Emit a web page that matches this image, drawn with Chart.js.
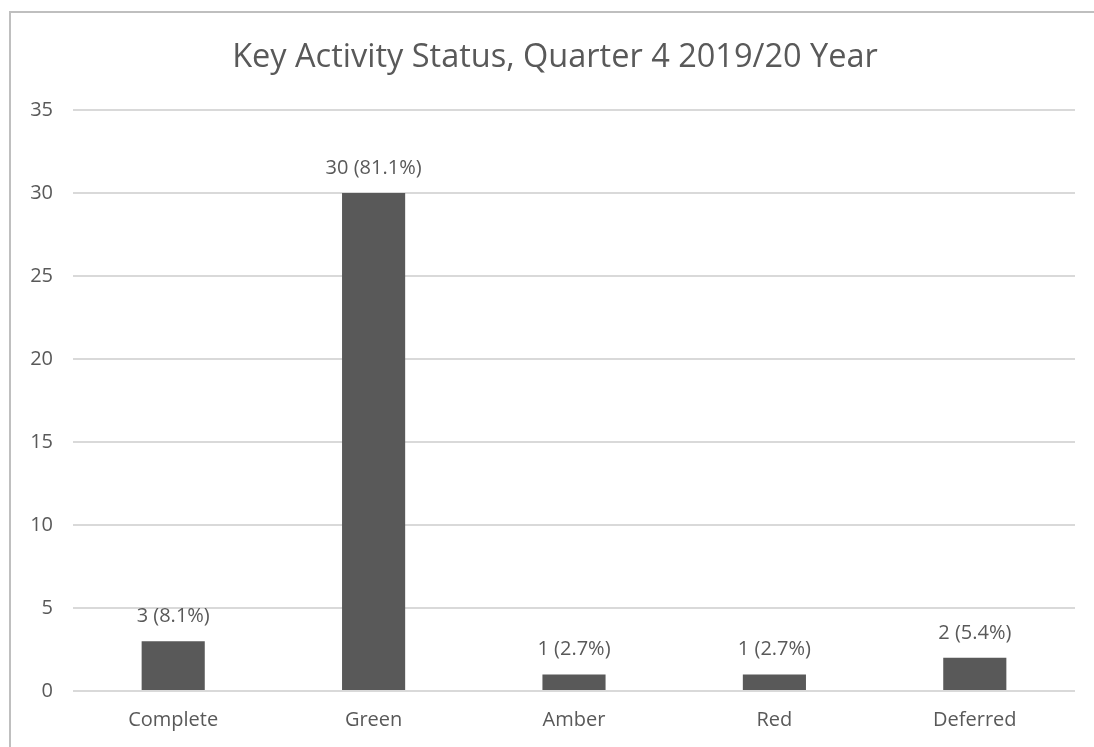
<!DOCTYPE html>
<html>
<head>
<meta charset="utf-8">
<script src="https://cdn.jsdelivr.net/npm/chart.js@4"></script>
<style>
  html, body { margin: 0; padding: 0; background: #fff; overflow: hidden; }
  #wrap { position: absolute; left: 0; top: 0; width: 1094px; height: 747px; }
</style>
</head>
<body>
<div id="wrap"><canvas id="grafico"></canvas></div>
<script>
// datos
const categorias = ['Complete', 'Green', 'Amber', 'Red', 'Deferred'];
const valores    = [3, 30, 1, 1, 2];
const porcentajes = ['8.1%', '81.1%', '2.7%', '2.7%', '5.4%'];
const ticksY     = [0, 5, 10, 15, 20, 25, 30, 35];
const titulo     = 'Key Activity Status, Quarter 4 2019/20 Year';

const gris = '#595959';
const fuente = "'Open Sans', 'Liberation Sans', sans-serif";

// marco gris y titulo
const marco = {
  id: 'marco',
  beforeDraw(chart){
    const c = chart.ctx;
    c.save();
    c.strokeStyle = '#bfbfbf';
    c.lineWidth = 2;
    c.strokeRect(10, 12, 2000, 2000);
    c.font = '32.5px ' + fuente;
    c.fillStyle = gris;
    c.textAlign = 'center';
    c.textBaseline = 'middle';
    c.fillText(titulo, 555, 58);
    c.restore();
  }
};

// etiquetas encima de cada barra
const etiquetas = {
  id: 'etiquetas',
  afterDatasetsDraw(chart){
    const c = chart.ctx;
    const meta = chart.getDatasetMeta(0);
    c.save();
    c.font = '20px ' + fuente;
    c.fillStyle = gris;
    c.textAlign = 'center';
    c.textBaseline = 'middle';
    meta.data.forEach((bar, i) => {
      c.fillText(valores[i] + ' (' + porcentajes[i] + ')', bar.x, bar.y - 25);
    });
    c.restore();
  }
};

const ctx = document.getElementById('grafico');
const chart = new Chart(ctx, {
  type: 'bar',
  data: {
    labels: categorias,
    datasets: [{
      data: valores,
      backgroundColor: gris,
      barPercentage: 0.63,
      categoryPercentage: 0.5
    }]
  },
  options: {
    responsive: true,
    maintainAspectRatio: false,
    animation: false,
    layout: { padding: { left: 0, right: 19, top: 110, bottom: 0 } },
    plugins: {
      legend: { display: false },
      tooltip: { enabled: false },
      title: { display: false }
    },
    scales: {
      x: {
        grid: { display: false, drawTicks: false },
        border: { display: false },
        ticks: { color: gris, font: { family: fuente, size: 20 }, padding: 17 },
        afterFit(s){ s.height = 56; }
      },
      y: {
        min: 0,
        max: 35,
        afterBuildTicks(s){ s.ticks = ticksY.map(v => ({ value: v })); },
        grid: { color: '#d9d9d9', lineWidth: 2, drawTicks: false },
        border: { display: false },
        ticks: { color: gris, font: { family: fuente, size: 20 }, padding: 20 },
        afterFit(s){ s.width = 73; }
      }
    }
  },
  plugins: [marco, etiquetas]
});
</script>
</body>
</html>
